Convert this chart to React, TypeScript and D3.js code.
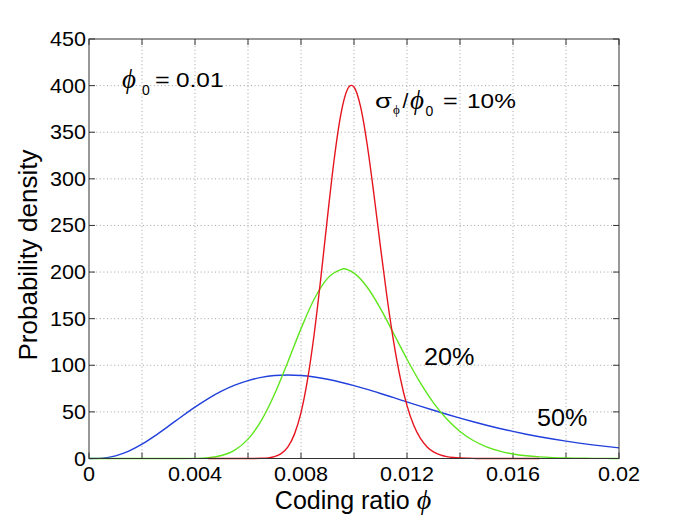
import React from "react";
import * as d3 from "d3";

// ---------- data ----------
const xTicks = [0, 0.002, 0.004, 0.006, 0.008, 0.01, 0.012, 0.014, 0.016, 0.018, 0.02];
const xTickLabels = ["0", "", "0.004", "", "0.008", "", "0.012", "", "0.016", "", "0.02"];
const yTicks = [0, 50, 100, 150, 200, 250, 300, 350, 400, 450];
const yTickLabels = ["0", "50", "100", "150", "200", "250", "300", "350", "400", "450"];

// 50% curve (blue)
const blueX = [
  0, 0.0005, 0.001, 0.0015, 0.002, 0.0025, 0.003, 0.0035, 0.004, 0.0045,
  0.005, 0.0055, 0.006, 0.0065, 0.007, 0.0075, 0.008, 0.0085, 0.009, 0.0095,
  0.01, 0.0105, 0.011, 0.0115, 0.012, 0.0125, 0.013, 0.0135, 0.014, 0.0145,
  0.015, 0.0155, 0.016, 0.0165, 0.017, 0.0175, 0.018, 0.0185, 0.019, 0.0195, 0.02,
];
const blueY = [
  0, 0.44, 2.86, 7.9, 15.34, 24.53, 34.7, 45.11, 55.13, 64.27,
  72.18, 78.65, 83.61, 87.03, 88.99, 89.62, 89.05, 87.44, 84.98, 81.83,
  78.15, 74.09, 69.74, 65.22, 60.68, 56.15, 51.72, 47.42, 43.3, 39.39,
  35.7, 32.24, 29.04, 26.07, 23.35, 20.85, 18.59, 16.51, 14.65, 12.96, 11.45,
];

// 20% curve (green)
const greenX = [
  0, 0.0005, 0.001, 0.0015, 0.002, 0.0025, 0.003, 0.0035, 0.004, 0.0045,
  0.005, 0.0055, 0.006, 0.0065, 0.007, 0.0075, 0.008, 0.0085, 0.009, 0.0095, 0.0096,
  0.01, 0.0105, 0.011, 0.0115, 0.012, 0.0125, 0.013, 0.0135, 0.014, 0.0145,
  0.015, 0.0155, 0.016, 0.0165, 0.017, 0.0175, 0.018, 0.0185, 0.019, 0.0195, 0.02,
];
const greenY = [
  0, 0, 0, 0, 0, 0, 0.002, 0.026, 0.18, 0.89,
  3.18, 8.97, 20.75, 40.6, 68.9, 103.3, 139.3, 171.1, 193.2, 202.6, 203.5,
  198.8, 183.7, 160.8, 133.8, 106.5, 81.3, 59.7, 42.3, 29.0, 19.3,
  12.47, 7.85, 4.82, 2.89, 1.69, 0.97, 0.55, 0.3, 0.16, 0.09, 0.05,
];

// 10% curve (red)
const redX = [
  0.0045, 0.0055, 0.006, 0.00625, 0.0065, 0.00675, 0.007, 0.00725, 0.0075, 0.00775,
  0.008, 0.00825, 0.0085, 0.00875, 0.009, 0.00925, 0.0095, 0.00975, 0.0099, 0.01,
  0.01025, 0.0105, 0.01075, 0.011, 0.01125, 0.0115, 0.01175, 0.012, 0.01225, 0.0125,
  0.01275, 0.013, 0.01325, 0.0135, 0.01375, 0.014, 0.01425, 0.0145, 0.01475, 0.015, 0.017,
];
const redY = [
  0, 0, 0.01, 0.048, 0.19, 0.655, 1.97, 5.21, 12.27, 25.88,
  49.26, 85.05, 134.1, 194.1, 259.1, 320.5, 368.7, 395.9, 400.3, 398.5,
  377.1, 336.3, 283.7, 226.7, 172.2, 124.5, 85.9, 56.7, 35.84, 21.74,
  12.68, 7.11, 3.85, 2.01, 1.015, 0.496, 0.235, 0.108, 0.048, 0.021, 0,
];

const seriesColors = ["#2140dc", "#5ee61c", "#e6141e"];

// ---------- layout ----------
const W = 685;
const H = 522;
const L = 89;
const R = 619;
const T = 39;
const B = 458.5;

const SANS = "'Liberation Sans', Arial, Helvetica, sans-serif";
const SERIF = "'Liberation Serif', 'DejaVu Serif', 'Times New Roman', serif";
const PHI = "\u03D5";

function Txt(props: {
  x: number;
  y: number;
  size: number;
  sx?: number;
  anchor?: string;
  family?: string;
  italic?: boolean;
  children: React.ReactNode;
}) {
  const { x, y, size, sx = 1, anchor = "start", family = SANS, italic = false, children } = props;
  return (
    <text
      transform={`translate(${x},${y}) scale(${sx},1)`}
      fontSize={size}
      fontFamily={family}
      fontStyle={italic ? "italic" : "normal"}
      textAnchor={anchor}
      fill="#000"
    >
      {children}
    </text>
  );
}

export default function App() {
  const x = d3.scaleLinear().domain([0, 0.02]).range([L, R]);
  const y = d3.scaleLinear().domain([0, 450]).range([B, T]);

  const mk = (xs: number[], ys: number[]) =>
    d3
      .line<number>()
      .x((_, i) => x(xs[i]))
      .y((d) => y(d))
      .curve(d3.curveMonotoneX)(ys) as string;

  const series = [
    { xs: blueX, ys: blueY, c: seriesColors[0] },
    { xs: greenX, ys: greenY, c: seriesColors[1] },
    { xs: redX, ys: redY, c: seriesColors[2] },
  ];

  const tickLen = 6;
  const gridStyle = { stroke: "#8a8a8a", strokeWidth: 0.8, strokeDasharray: "1,2.6" };

  return (
    <svg
      width={W}
      height={H}
      style={{ position: "absolute", left: 0, top: 0, background: "#fff" }}
    >
      <rect x={0} y={0} width={W} height={H} fill="#fff" />

      {/* grid */}
      {xTicks
        .filter((t) => t > 0 && t < 0.02)
        .map((t) => (
          <line key={"gx" + t} x1={x(t)} x2={x(t)} y1={T} y2={B} {...gridStyle} />
        ))}
      {yTicks
        .filter((t) => t > 0 && t < 450)
        .map((t) => (
          <line key={"gy" + t} x1={L} x2={R} y1={y(t)} y2={y(t)} {...gridStyle} />
        ))}

      {/* ticks (inward, all four sides) */}
      {xTicks.map((t) => (
        <g key={"tx" + t} stroke="#333" strokeWidth={1}>
          <line x1={x(t)} x2={x(t)} y1={B} y2={B - tickLen} />
          <line x1={x(t)} x2={x(t)} y1={T} y2={T + tickLen} />
        </g>
      ))}
      {yTicks.map((t) => (
        <g key={"ty" + t} stroke="#333" strokeWidth={1}>
          <line x1={L} x2={L + tickLen} y1={y(t)} y2={y(t)} />
          <line x1={R} x2={R - tickLen} y1={y(t)} y2={y(t)} />
        </g>
      ))}

      {/* curves */}
      {series.map((s, i) => (
        <path key={"s" + i} d={mk(s.xs, s.ys)} fill="none" stroke={s.c} strokeWidth={1.4} />
      ))}

      {/* box */}
      <rect x={L} y={T} width={R - L} height={B - T} fill="none" stroke="#333" strokeWidth={1} />

      {/* tick labels */}
      {yTicks.map((t, i) => (
        <Txt key={"ly" + t} x={86} y={y(t) + 7} size={20} sx={1.08} anchor="end">
          {yTickLabels[i]}
        </Txt>
      ))}
      {xTicks.map((t, i) =>
        xTickLabels[i] ? (
          <Txt key={"lx" + t} x={x(t)} y={481} size={20} sx={1.08} anchor="middle">
            {xTickLabels[i]}
          </Txt>
        ) : null
      )}

      {/* axis labels */}
      <text
        x={353}
        y={509}
        fontSize={25}
        fontFamily={SANS}
        textAnchor="middle"
        fill="#000"
      >
        Coding ratio{" "}
        <tspan fontFamily={SERIF} fontStyle="italic" fontSize={28}>
          {PHI}
        </tspan>
      </text>
      <text
        transform="translate(37,255) rotate(-90)"
        fontSize={26}
        fontFamily={SANS}
        textAnchor="middle"
        fill="#000"
      >
        Probability density
      </text>

      {/* annotation: phi_0 = 0.01 */}
      <Txt x={122} y={88} size={27} family={SERIF} italic>
        {PHI}
      </Txt>
      <Txt x={142} y={95} size={14}>
        0
      </Txt>
      <Txt x={155} y={87} size={21} sx={1.2}>
        =
      </Txt>
      <Txt x={176} y={87} size={20} sx={1.22}>
        0.01
      </Txt>

      {/* annotation: sigma_phi / phi_0 = 10% */}
      <Txt x={375} y={108} size={21} sx={1.3}>
        σ
      </Txt>
      <Txt x={393} y={114} size={13} family={SERIF}>
        {PHI}
      </Txt>
      <Txt x={402.5} y={108} size={21}>
        /
      </Txt>
      <Txt x={410} y={109} size={27} family={SERIF} italic>
        {PHI}
      </Txt>
      <Txt x={425.5} y={116} size={14}>
        0
      </Txt>
      <Txt x={443} y={108} size={21} sx={1.2}>
        =
      </Txt>
      <Txt x={467} y={108} size={20} sx={1.22}>
        10%
      </Txt>

      {/* curve labels */}
      <Txt x={424} y={365} size={24} sx={1.05}>
        20%
      </Txt>
      <Txt x={537} y={426} size={24} sx={1.05}>
        50%
      </Txt>
    </svg>
  );
}
